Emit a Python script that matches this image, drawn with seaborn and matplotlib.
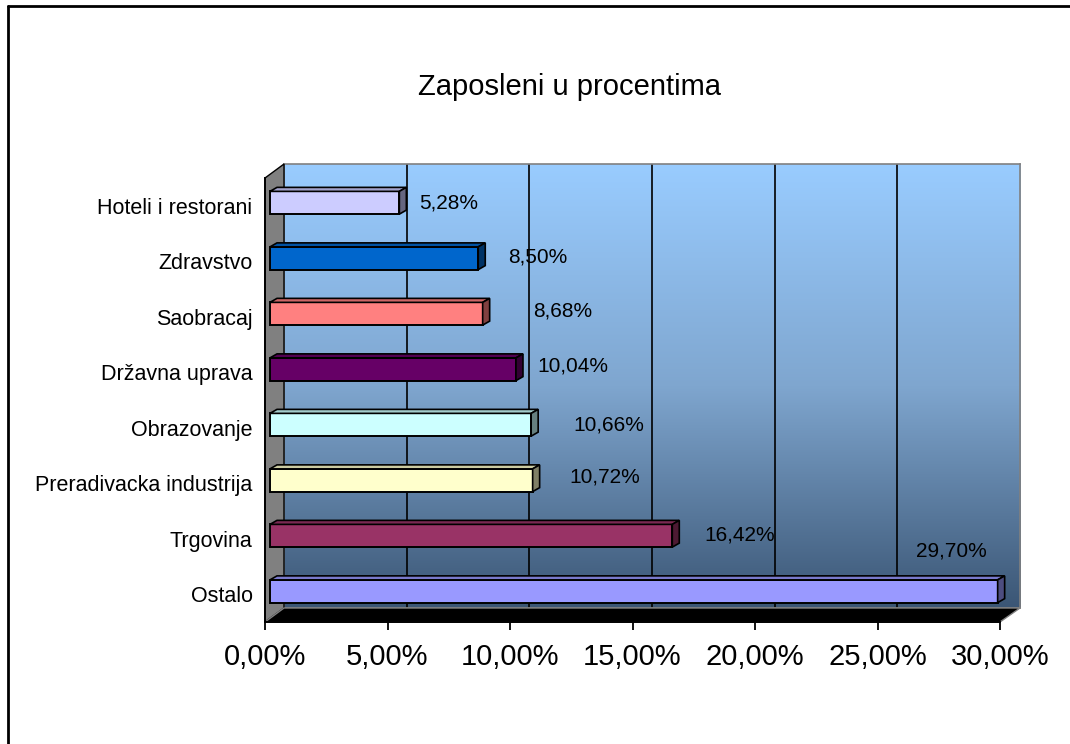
import numpy as np
import pandas as pd
import matplotlib
matplotlib.use("Agg")
import matplotlib.pyplot as plt
import seaborn as sns
from matplotlib.patches import Polygon
from matplotlib.transforms import IdentityTransform, ScaledTranslation
from matplotlib.colors import to_rgb, LinearSegmentedColormap

# data (top to bottom, as in the chart)
categories = ['Hoteli i restorani', 'Zdravstvo', 'Saobracaj', 'Državna uprava',
              'Obrazovanje', 'Preradivacka industrija', 'Trgovina', 'Ostalo']
shares = [5.28, 8.50, 8.68, 10.04, 10.66, 10.72, 16.42, 29.70]
bar_colors = ['#CCCCFF', '#0066CC', '#FF8080', '#660066',
              '#CCFFFF', '#FFFFCC', '#993366', '#9999FF']
x_ticks = [0, 5, 10, 15, 20, 25, 30]

# label nudges in pixels (dx, dy) -- excel puts them a bit all over the place
label_nudge = [(20, 0), (30, 1), (50, 3), (21, 3), (42, 0), (37, 3), (32, 1), (-82, 40)]

W, H = 1070, 744
sns.set_style('white')
plt.rcParams['font.family'] = ['Liberation Sans', 'DejaVu Sans']

fig = plt.figure(figsize=(W / 100, H / 100), dpi=100)


def fpos(left, top, right, bottom):
    return [left / W, 1 - bottom / H, (right - left) / W, (bottom - top) / H]


def fpt(x, y):
    return (x / W, 1 - y / H)


# back wall with gradient + gridlines
back = fig.add_axes(fpos(284, 164, 1020, 608), zorder=0)
grad = np.linspace(0, 1, 256).reshape(-1, 1)
cmap = LinearSegmentedColormap.from_list('wall', ['#99CCFF', '#7FA6CF', '#3B5675'])
back.imshow(grad, aspect='auto', cmap=cmap, extent=[0, 30, 0, 1], origin='upper')
back.set_xlim(0, 30)
back.set_ylim(0, 1)
for xv in x_ticks[1:-1]:
    back.axvline(xv, color='black', lw=1.2)
back.set_xticks([])
back.set_yticks([])
for s in back.spines.values():
    s.set_color('#808080')
    s.set_linewidth(1.2)

# side wall and floor
fig.patches.append(Polygon([fpt(265, 178), fpt(284, 164), fpt(284, 608), fpt(265, 622)],
                           closed=True, facecolor='#808080', edgecolor='black', lw=1.0,
                           transform=fig.transFigure, zorder=1))
fig.patches.append(Polygon([fpt(265, 622), fpt(284, 608), fpt(1020, 608), fpt(1000, 622)],
                           closed=True, facecolor='black', edgecolor='#808080', lw=1.0,
                           transform=fig.transFigure, zorder=1))

# main (front) axes
ax = fig.add_axes(fpos(265, 178, 1000, 622), zorder=2)
ax.set_facecolor('none')

df = pd.DataFrame({'category': categories, 'share': shares})
sns.barplot(data=df, x='share', y='category', hue='category', palette=bar_colors,
            orient='h', width=0.41, edgecolor='black', linewidth=1.4,
            legend=False, saturation=1, ax=ax)

ax.set_xlim(0, 30)
ax.set_ylim(len(categories) - 0.5, -0.5)

# push bars a bit into depth and add the 3d faces
shift = ScaledTranslation(5 / 100, 3 / 100, fig.dpi_scale_trans)
dx, dy = 7, 4
for p, col in zip(ax.patches, bar_colors):
    p.set_transform(ax.transData + shift)
    x0, y0 = p.get_x(), p.get_y()
    x1, y1 = x0 + p.get_width(), y0 + p.get_height()
    (X0, Ya), (X1, Yb) = ax.transData.transform([(x0, y0), (x1, y1)])
    X0 += 5
    X1 += 5
    Yt = max(Ya, Yb) + 3
    Ybot = min(Ya, Yb) + 3
    rgb = np.array(to_rgb(col))
    top = Polygon([(X0, Yt), (X0 + dx, Yt + dy), (X1 + dx, Yt + dy), (X1, Yt)],
                  closed=True, facecolor=rgb * 0.8, edgecolor='black', lw=1.2,
                  transform=IdentityTransform(), clip_on=False, zorder=3)
    side = Polygon([(X1, Ybot), (X1 + dx, Ybot + dy), (X1 + dx, Yt + dy), (X1, Yt)],
                   closed=True, facecolor=rgb * 0.5, edgecolor='black', lw=1.2,
                   transform=IdentityTransform(), clip_on=False, zorder=3)
    ax.add_patch(top)
    ax.add_patch(side)

# value labels
for i, (v, (ndx, ndy)) in enumerate(zip(shares, label_nudge)):
    ax.annotate(f'{v:.2f}%'.replace('.', ','), xy=(v, i), xytext=(ndx + 5, ndy + 3),
                textcoords='offset pixels', ha='left', va='center',
                fontsize=15, color='black', annotation_clip=False, zorder=5)

# axes styling
ax.set_xticks(x_ticks)
ax.set_xticklabels([f'{t:.2f}%'.replace('.', ',') for t in x_ticks], fontsize=21)
ax.set_yticks(range(len(categories)))
ax.set_yticklabels(categories, fontsize=15.5)
ax.set_yticks(np.arange(len(categories) + 1) - 0.5, minor=True)
ax.tick_params(axis='y', which='major', length=0, pad=9, labelcolor='black')
ax.tick_params(axis='y', which='minor', length=6, width=1.3, color='black', direction='out')
ax.tick_params(axis='x', which='major', length=6, width=1.3, color='black',
               direction='out', pad=9, bottom=True, labelcolor='black')
ax.set_xlabel('')
ax.set_ylabel('')
for s in ['top', 'right']:
    ax.spines[s].set_visible(False)
for s in ['left', 'bottom']:
    ax.spines[s].set_color('black')
    ax.spines[s].set_linewidth(1.4)

fig.text(570 / W, 1 - 87 / H, 'Zaposleni u procentima', ha='center', va='center',
         fontsize=21, color='black')

# chart frame (only top and left edges are inside the picture)
fig.add_artist(plt.Line2D([8 / W, 1], [1 - 6 / H, 1 - 6 / H], color='black', lw=2,
                          transform=fig.transFigure))
fig.add_artist(plt.Line2D([8 / W, 8 / W], [0, 1 - 6 / H], color='black', lw=2,
                          transform=fig.transFigure))

fig.savefig('out.png', dpi=100, facecolor='white')
